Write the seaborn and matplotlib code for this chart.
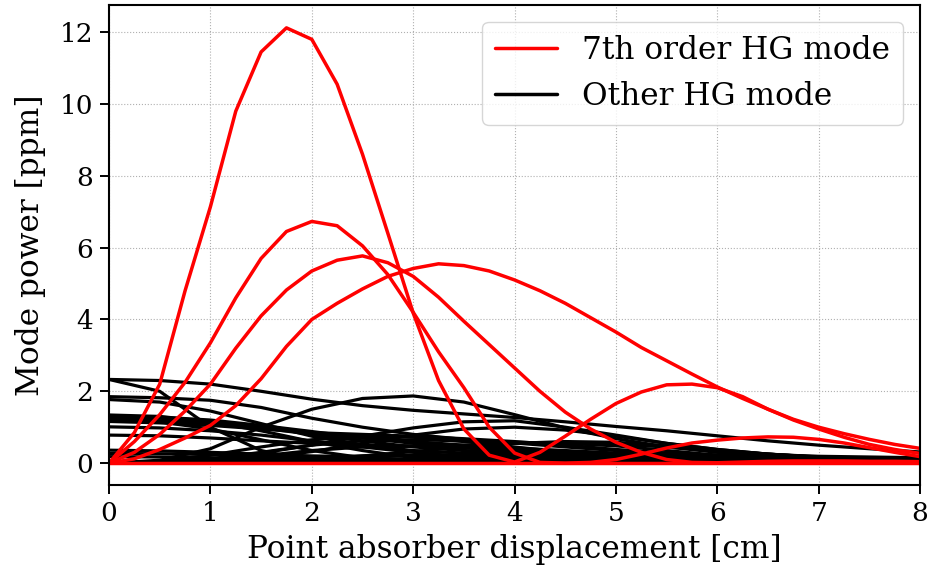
import numpy as np
import pandas as pd
import matplotlib
matplotlib.use("Agg")
import matplotlib.pyplot as plt
import seaborn as sns
from matplotlib.lines import Line2D

# ---- data ----
x_red = [i * 0.25 for i in range(33)]
red_modes = {
    "R1": [0, 0.85, 2.2, 4.8, 7.14, 9.8, 11.45, 12.12, 11.8, 10.55, 8.6, 6.4, 4.18, 2.3, 0.95, 0.22,
           0.03, 0.3, 0.75, 1.22, 1.66, 1.98, 2.18, 2.2, 2.1, 1.85, 1.5, 1.2, 0.95, 0.72, 0.52, 0.38, 0.27],
    "R2": [0, 0.6, 1.35, 2.25, 3.35, 4.6, 5.7, 6.45, 6.73, 6.61, 6.05, 5.25, 4.2, 3.1, 2.1, 1.0,
           0.28, 0.02, 0.0, 0.02, 0.1, 0.25, 0.42, 0.56, 0.64, 0.7, 0.73, 0.72, 0.66, 0.56, 0.43, 0.3, 0.18],
    "R3": [0, 0.3, 0.8, 1.45, 2.2, 3.2, 4.1, 4.82, 5.35, 5.65, 5.77, 5.58, 5.2, 4.62, 3.95, 3.3,
           2.65, 2.0, 1.42, 0.95, 0.58, 0.3, 0.1, 0.02, 0.01, 0.03, 0.05, 0.06, 0.06, 0.06, 0.05, 0.05, 0.04],
    "R4": [0, 0.12, 0.38, 0.7, 1.05, 1.6, 2.35, 3.25, 4.0, 4.45, 4.85, 5.2, 5.42, 5.55, 5.5, 5.35,
           5.1, 4.8, 4.45, 4.05, 3.65, 3.22, 2.85, 2.48, 2.12, 1.8, 1.5, 1.22, 1.0, 0.82, 0.66, 0.52, 0.41],
    "R5": [0.0] * 33,
}

x_black = [i * 0.5 for i in range(17)]
black_modes = {
    "K1": [2.33, 2.30, 2.20, 2.00, 1.78, 1.60, 1.47, 1.37, 1.27, 1.15, 1.02, 0.90, 0.76, 0.62, 0.50, 0.40, 0.31],
    "K2": [2.33, 2.00, 1.00, 0.35, 0.05, 0.02, 0.10, 0.18, 0.20, 0.16, 0.10, 0.06, 0.04, 0.03, 0.02, 0.02, 0.02],
    "K3": [1.85, 1.82, 1.75, 1.55, 1.25, 1.00, 0.80, 0.66, 0.56, 0.45, 0.35, 0.25, 0.18, 0.12, 0.08, 0.06, 0.05],
    "K4": [1.77, 1.70, 1.45, 1.10, 0.75, 0.50, 0.35, 0.28, 0.25, 0.22, 0.18, 0.12, 0.08, 0.06, 0.05, 0.04, 0.03],
    "K5": [1.34, 1.30, 1.15, 0.90, 0.60, 0.35, 0.15, 0.05, 0.05, 0.12, 0.15, 0.12, 0.08, 0.05, 0.03, 0.02, 0.02],
    "K6": [1.28, 1.25, 1.15, 1.00, 0.85, 0.72, 0.60, 0.50, 0.42, 0.35, 0.28, 0.20, 0.14, 0.10, 0.07, 0.05, 0.04],
    "K7": [1.22, 1.15, 0.95, 0.65, 0.35, 0.15, 0.10, 0.15, 0.25, 0.30, 0.25, 0.18, 0.10, 0.06, 0.04, 0.03, 0.02],
    "K8": [1.16, 1.12, 1.05, 0.95, 0.85, 0.80, 0.75, 0.68, 0.60, 0.50, 0.38, 0.28, 0.20, 0.14, 0.10, 0.07, 0.05],
    "K9": [1.01, 0.98, 0.90, 0.78, 0.62, 0.45, 0.30, 0.18, 0.10, 0.05, 0.03, 0.02, 0.02, 0.02, 0.02, 0.02, 0.02],
    "K10": [0.78, 0.76, 0.70, 0.62, 0.55, 0.50, 0.48, 0.50, 0.55, 0.55, 0.48, 0.35, 0.22, 0.13, 0.08, 0.05, 0.04],
    "K11": [0.36, 0.34, 0.30, 0.25, 0.20, 0.18, 0.20, 0.25, 0.30, 0.30, 0.25, 0.18, 0.12, 0.08, 0.05, 0.04, 0.03],
    "K12": [0.27, 0.26, 0.24, 0.20, 0.15, 0.10, 0.06, 0.05, 0.08, 0.12, 0.12, 0.10, 0.08, 0.06, 0.04, 0.03, 0.02],
    "K13": [0.18, 0.17, 0.15, 0.12, 0.10, 0.08, 0.08, 0.10, 0.12, 0.12, 0.10, 0.08, 0.06, 0.05, 0.04, 0.03, 0.02],
    "K14": [1.30, 1.28, 1.20, 1.05, 0.88, 0.70, 0.55, 0.45, 0.38, 0.30, 0.22, 0.15, 0.10, 0.07, 0.05, 0.04, 0.03],
    "K15": [1.20, 1.18, 1.10, 0.98, 0.80, 0.62, 0.45, 0.35, 0.30, 0.28, 0.22, 0.15, 0.10, 0.06, 0.04, 0.03, 0.02],
    "H1": [0.0, 0.08, 0.40, 1.00, 1.50, 1.80, 1.87, 1.70, 1.35, 0.98, 0.68, 0.45, 0.30, 0.20, 0.14, 0.10, 0.07],
    "H2": [0.0, 0.02, 0.10, 0.28, 0.50, 0.75, 0.98, 1.15, 1.18, 1.00, 0.78, 0.55, 0.38, 0.25, 0.16, 0.10, 0.07],
    "H3": [0.0, 0.05, 0.22, 0.45, 0.65, 0.75, 0.72, 0.60, 0.45, 0.30, 0.20, 0.12, 0.08, 0.05, 0.03, 0.02, 0.02],
    "H4": [0.0, 0.01, 0.05, 0.15, 0.32, 0.55, 0.78, 0.95, 1.00, 0.92, 0.75, 0.55, 0.38, 0.25, 0.16, 0.10, 0.06],
    "H5": [0.0, 0.02, 0.08, 0.20, 0.35, 0.45, 0.47, 0.42, 0.35, 0.28, 0.22, 0.18, 0.15, 0.12, 0.10, 0.08, 0.06],
    "H6": [0.0, 0.0, 0.01, 0.04, 0.10, 0.20, 0.32, 0.45, 0.55, 0.60, 0.58, 0.48, 0.35, 0.25, 0.18, 0.12, 0.08],
    "H7": [0.0, 0.0, 0.0, 0.01, 0.03, 0.06, 0.10, 0.15, 0.20, 0.24, 0.26, 0.25, 0.23, 0.21, 0.19, 0.17, 0.15],
    "H8": [0.0, 0.01, 0.04, 0.09, 0.15, 0.20, 0.22, 0.20, 0.16, 0.13, 0.12, 0.12, 0.11, 0.10, 0.09, 0.08, 0.07],
    "H9": [0.0, 0.03, 0.12, 0.30, 0.50, 0.62, 0.65, 0.62, 0.58, 0.55, 0.52, 0.45, 0.35, 0.25, 0.17, 0.12, 0.08],
}

legend_labels = ["7th order HG mode", "Other HG mode"]
x_label = "Point absorber displacement [cm]"
y_label = "Mode power [ppm]"

# ---- build long-form tables ----
red_df = pd.DataFrame([(k, x, y) for k, v in red_modes.items() for x, y in zip(x_red, v)],
                      columns=["mode", "x", "power"])
black_df = pd.DataFrame([(k, x, y) for k, v in black_modes.items() for x, y in zip(x_black, v)],
                        columns=["mode", "x", "power"])

sns.set_style("ticks")
plt.rcParams["font.family"] = ["DejaVu Serif"]
plt.rcParams["text.color"] = "black"
plt.rcParams["axes.labelcolor"] = "black"
plt.rcParams["xtick.color"] = "black"
plt.rcParams["ytick.color"] = "black"

fig = plt.figure(figsize=(9.28, 5.75), dpi=100)
ax = fig.add_axes([0.1175, 0.1565, 0.874, 0.835])

ax.grid(True, linestyle=":", color="#b0b0b0", linewidth=0.8)
ax.set_axisbelow(True)

sns.lineplot(data=black_df, x="x", y="power", units="mode", estimator=None,
             color="black", linewidth=2.3, ax=ax, legend=False)
sns.lineplot(data=red_df, x="x", y="power", units="mode", estimator=None,
             color="red", linewidth=2.5, ax=ax, legend=False)

ax.set_xlim(0, 8)
ax.set_ylim(-0.61, 12.76)
ax.set_xticks(range(0, 9))
ax.set_yticks(range(0, 13, 2))
ax.tick_params(axis="both", labelsize=19, length=6.5, width=1.4, direction="out",
               colors="black", pad=5)
for s in ax.spines.values():
    s.set_linewidth(1.5)
    s.set_color("black")
ax.set_xlabel(x_label, fontsize=22.5, labelpad=6)
ax.set_ylabel(y_label, fontsize=22.5, labelpad=10)

handles = [Line2D([0], [0], color="red", lw=2.5), Line2D([0], [0], color="black", lw=2.5)]
ax.legend(handles, legend_labels, loc="upper right", fontsize=22.5, frameon=True,
          fancybox=True, framealpha=0.8, edgecolor="#cccccc", borderaxespad=0.55)

fig.savefig("out.png", dpi=100)
